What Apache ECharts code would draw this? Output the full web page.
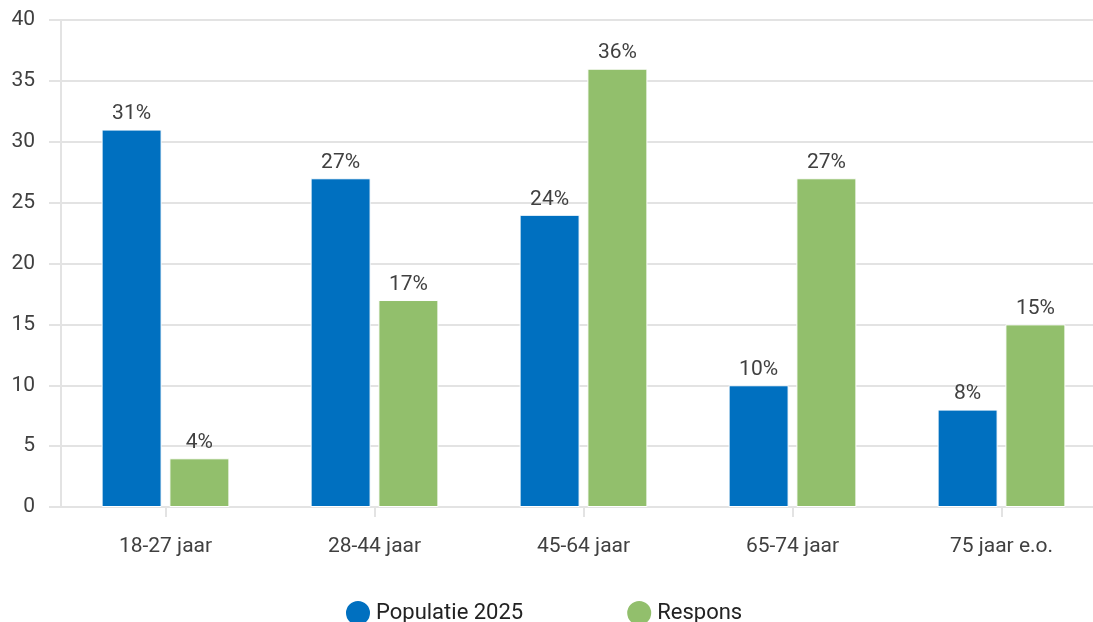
<!DOCTYPE html>
<html>
<head>
<meta charset="utf-8">
<script src="https://cdn.jsdelivr.net/npm/echarts@6/dist/echarts.min.js"></script>
<style>
  html, body { margin: 0; padding: 0; background: #ffffff; }
  #chart { width: 1093px; height: 622px; }
</style>
</head>
<body>
<div id="chart"></div>
<script>
// Age groups and share per group (percent)
const categories = ['18-27 jaar', '28-44 jaar', '45-64 jaar', '65-74 jaar', '75 jaar e.o.'];
const populatie = [31, 27, 24, 10, 8];
const respons = [4, 17, 36, 27, 15];
const seriesNames = ['Populatie 2025', 'Respons'];

const textColor = '#404040';
const lineColor = '#e3e3e3';

const chart = echarts.init(document.getElementById('chart'), null, { renderer: 'canvas' });

const labelStyle = {
  show: true,
  position: 'top',
  distance: 5,
  color: textColor,
  fontFamily: 'Roboto',
  fontSize: 21,
  formatter: p => p.value + '%'
};

chart.setOption({
  animation: false,
  textStyle: { fontFamily: 'Roboto' },
  // plot area runs slightly past the right edge of the canvas
  grid: { left: 61, width: 1045, top: 20, height: 487, containLabel: false, outerBoundsMode: 'none' },
  legend: {
    left: 339,
    top: 594,
    icon: 'circle',
    itemWidth: 26,
    itemHeight: 26,
    itemGap: 102,
    textStyle: { color: '#222222', fontFamily: 'Roboto', fontSize: 22 },
    data: seriesNames
  },
  xAxis: {
    type: 'category',
    data: categories,
    axisLine: { lineStyle: { color: lineColor, width: 2 } },
    axisTick: { show: true, alignWithLabel: true, length: 10, lineStyle: { color: lineColor, width: 2 } },
    axisLabel: { color: textColor, fontSize: 21, fontFamily: 'Roboto', margin: 29 }
  },
  yAxis: {
    type: 'value',
    min: 0,
    max: 40,
    interval: 5,
    axisLine: { show: true, lineStyle: { color: lineColor, width: 2 } },
    axisTick: { show: true, length: 12, lineStyle: { color: lineColor, width: 2 } },
    splitLine: { lineStyle: { color: lineColor, width: 2 } },
    axisLabel: { color: textColor, fontSize: 21, fontFamily: 'Roboto', margin: 26 }
  },
  series: [
    {
      name: seriesNames[0],
      type: 'bar',
      data: populatie,
      barWidth: 60,
      barGap: '13%',
      itemStyle: { color: '#0070c0', borderColor: '#ffffff', borderWidth: 1 },
      label: labelStyle
    },
    {
      name: seriesNames[1],
      type: 'bar',
      data: respons,
      barWidth: 60,
      barGap: '13%',
      itemStyle: { color: '#92bf6c', borderColor: '#ffffff', borderWidth: 1 },
      label: labelStyle
    }
  ]
});
</script>
</body>
</html>
